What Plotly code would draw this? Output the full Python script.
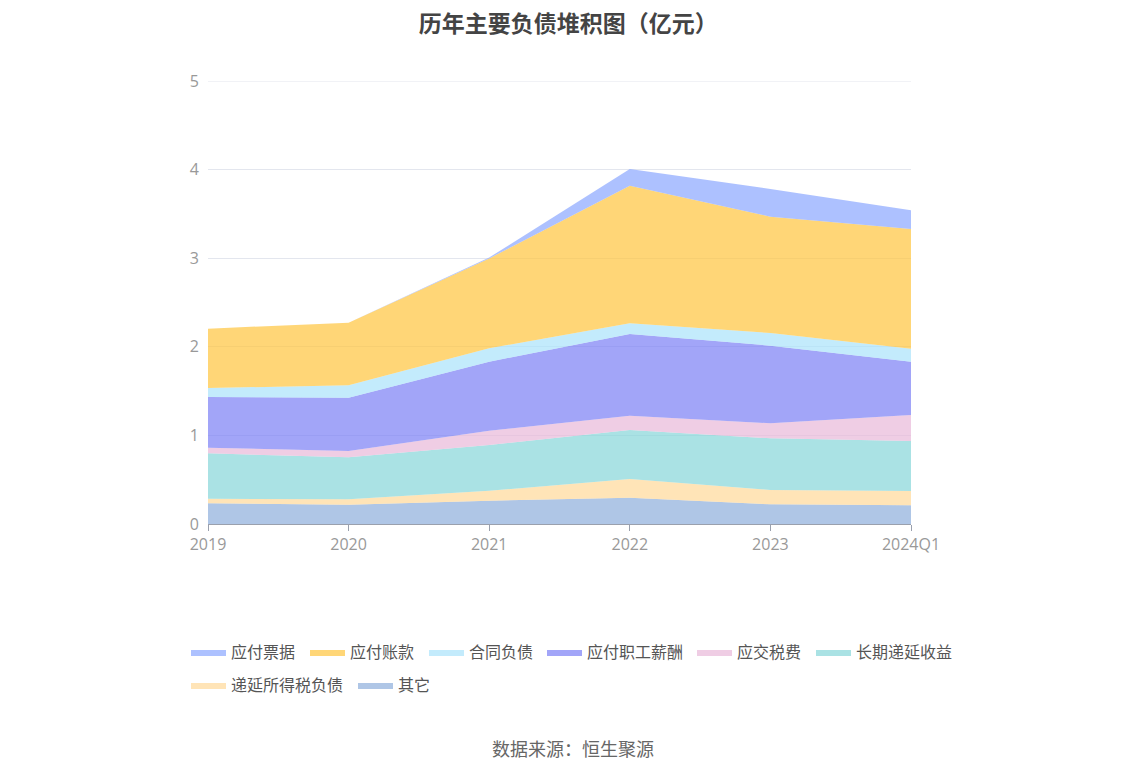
import plotly.graph_objects as go

years = ["2019", "2020", "2021", "2022", "2023", "2024Q1"]

# values in 亿元 (bottom of stack first)
qita = [0.233, 0.218, 0.263, 0.297, 0.222, 0.211]          # 其它
diyan_suodeshui = [0.053, 0.060, 0.113, 0.211, 0.162, 0.161]  # 递延所得税负债
changqi_diyan = [0.512, 0.474, 0.516, 0.553, 0.583, 0.565]     # 长期递延收益
yingjiao_shuifei = [0.063, 0.072, 0.161, 0.161, 0.170, 0.293]  # 应交税费
zhigong_xinchou = [0.572, 0.602, 0.779, 0.922, 0.876, 0.602]   # 应付职工薪酬
hetong_fuzhai = [0.102, 0.139, 0.151, 0.121, 0.143, 0.147]     # 合同负债
yingfu_zhangkuan = [0.670, 0.707, 1.015, 1.553, 1.313, 1.351]  # 应付账款
yingfu_piaoju = [0.0, 0.0, 0.01, 0.189, 0.312, 0.211]         # 应付票据

series = [
    ("其它", qita, "#8daedb"),
    ("递延所得税负债", diyan_suodeshui, "#ffd899"),
    ("长期递延收益", changqi_diyan, "#86d6d8"),
    ("应交税费", yingjiao_shuifei, "#e8b8d8"),
    ("应付职工薪酬", zhigong_xinchou, "#7b7ff5"),
    ("合同负债", hetong_fuzhai, "#a9e2fb"),
    ("应付账款", yingfu_zhangkuan, "#ffc53d"),
    ("应付票据", yingfu_piaoju, "#8aa6ff"),
]

# legend placement (page px of the swatch left edge, row)
legend_pos = {
    "应付票据": (192, 0), "应付账款": (311, 0), "合同负债": (430, 0),
    "应付职工薪酬": (548, 0), "应交税费": (698, 0), "长期递延收益": (817, 0),
    "递延所得税负债": (192, 1), "其它": (359, 1),
}

def rgba(h, a):
    h = h.lstrip("#")
    r, g, b = int(h[0:2], 16), int(h[2:4], 16), int(h[4:6], 16)
    return f"rgba({r},{g},{b},{a})"

FONT = "Noto Sans CJK SC, Noto Sans, sans-serif"
TICKFONT = "Open Sans, Noto Sans, sans-serif"
L, T, W, H = 200, 73, 703, 443

fig = go.Figure()
layout_legends = {}
for i, (name, vals, col) in enumerate(series):
    lname = "legend" if i == 0 else f"legend{i+1}"
    fig.add_trace(go.Scatter(
        x=years, y=vals, name=name, mode="lines",
        stackgroup="one", line=dict(width=0, color=col),
        fillcolor=rgba(col, 0.7), legend=lname,
    ))
    px, row = legend_pos[name]
    lx = (px - 6 - 8 - L) / W
    ly = (T + H - (627 if row == 0 else 660)) / H
    layout_legends[lname] = dict(orientation="h", x=lx, xanchor="left", y=ly,
                                 yanchor="top", font=dict(size=16, color="#555"),
                                 bgcolor="rgba(0,0,0,0)", itemwidth=35)

fig.update_layout(
    width=1148, height=776,
    paper_bgcolor="white", plot_bgcolor="white",
    margin=dict(l=L, r=1148 - L - W, t=T, b=776 - T - H),
    font=dict(family=FONT, size=15, color="#666"),
    title=dict(text="<b>历年主要负债堆积图（亿元）</b>", x=0.488, xanchor="center",
               y=0.98, yanchor="middle",
               font=dict(size=23, color="#444", family=FONT)),
    showlegend=True,
    xaxis=dict(type="category", range=[0, 5], showgrid=False,
               showline=True, linecolor="#9aa0ad", linewidth=1,
               ticks="outside", ticklen=6, tickcolor="#9aa0ad",
               tickfont=dict(size=16, color="#999", family=TICKFONT), zeroline=False),
    yaxis=dict(range=[0, 5], tickvals=[0, 1, 2, 3, 4, 5], showgrid=True,
               gridcolor="#e3e6ee", showline=False, zeroline=False, ticks="",
               tickfont=dict(size=16, color="#999", family=TICKFONT), ticklabelstandoff=8),
    shapes=[dict(type="line", xref="paper", yref="y", x0=0, x1=1, y0=5, y1=5,
                 line=dict(color="#e3e6ee", width=1), layer="below")],
    annotations=[dict(text="数据来源：恒生聚源", x=0.519, xanchor="center",
                      xref="paper", yref="paper", y=-0.506, yanchor="middle",
                      showarrow=False, font=dict(size=18, color="#666", family=FONT))],
)
fig.update_layout(**layout_legends)

fig.write_html("out.html")
